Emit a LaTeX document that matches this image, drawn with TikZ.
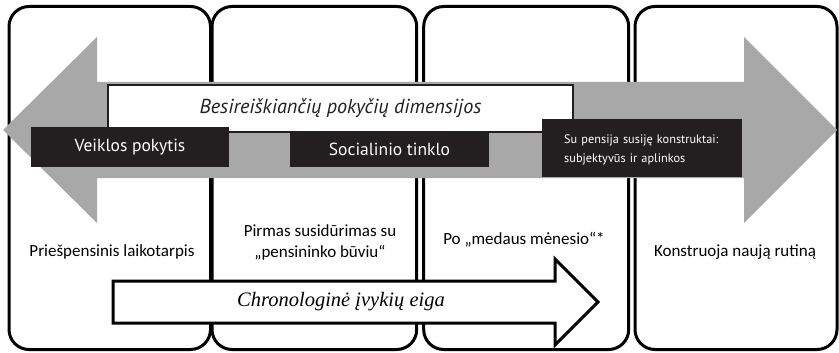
\documentclass[tikz,border=0pt]{standalone}
\usepackage{fontspec}
\setmainfont{Carlito}
\newfontfamily\myr{PT Sans}
\newfontfamily\tms{Liberation Serif}
\definecolor{arrowgray}{HTML}{A8A8A8}
\definecolor{boxdark}{HTML}{231F20}
\begin{document}
\begin{tikzpicture}[x=1pt,y=-1pt,
  panel/.style={draw=black,line width=3pt,rounded corners=20pt},
  wbox/.style={draw=boxdark,line width=1.2pt,fill=white,inner sep=0pt,text=boxdark},
  dbox/.style={fill=boxdark,inner sep=0pt,text=white,font=\myr\fontsize{17.5}{21}\selectfont},
  btxt/.style={inner sep=0pt,align=center,text=black,font=\fontsize{17}{21}\selectfont},
  chron/.style={draw=black,line width=3pt,fill=white,line join=miter}]
\useasboundingbox (0,0) rectangle (839,353);
% panels
\draw[panel] (9,6.5) rectangle (210.5,349.5);
\draw[panel] (212,6.5) rectangle (416.7,349.5);
\draw[panel] (423.7,6.5) rectangle (628.7,349.5);
\draw[panel] (635,6.5) rectangle (837,349.5);
% grey double arrow
\fill[arrowgray] (3,130) -- (97,37) -- (97,82) -- (744,82) -- (744,37) -- (837,130)
  -- (744,223) -- (744,178) -- (97,178) -- (97,223) -- cycle;
% dimension box
\node[wbox,minimum width=465pt,minimum height=47pt] (dim) at (340.5,108.5)
  {\myr\itshape\fontsize{20.2}{24}\selectfont Besireiškiančių pokyčių dimensijos};
% dark boxes
\node[dbox,minimum width=198pt,minimum height=40pt] (veik) at (130,147) {Veiklos pokytis};
\node[dbox,minimum width=199pt,minimum height=36pt] (soc) at (389.5,149) {Socialinio tinklo};
\node[dbox,minimum width=200pt,minimum height=58pt] (kon) at (642,148) {};
\node[anchor=west,inner sep=0pt,text width=176pt,text=white,align=left,font=\myr\fontsize{12.3}{19}\selectfont] (kontxt) at (564,149.5)
  {Su pensija susiję konstruktai:\\subjektyvūs ir aplinkos};
% bottom texts
\node[btxt] (t1) at (112,252) {Priešpensinis laikotarpis};
\node[btxt] (t2) at (320,242.5) {Pirmas susidūrimas su\\„pensininko būviu“};
\node[btxt] (t3) at (524,240) {Po „medaus mėnesio“*};
\node[btxt] (t4) at (735,252) {Konstruoja naują rutiną};
% chronology arrow
\draw[chron] (113,281) -- (555,281) -- (555,259) -- (598,302) -- (555,345) -- (555,323) -- (113,323) -- cycle;
\node[inner sep=0pt,font=\tms\itshape\fontsize{20.5}{24}\selectfont] (chr) at (341,302) {Chronologinė įvykių eiga};
\end{tikzpicture}
\end{document}
